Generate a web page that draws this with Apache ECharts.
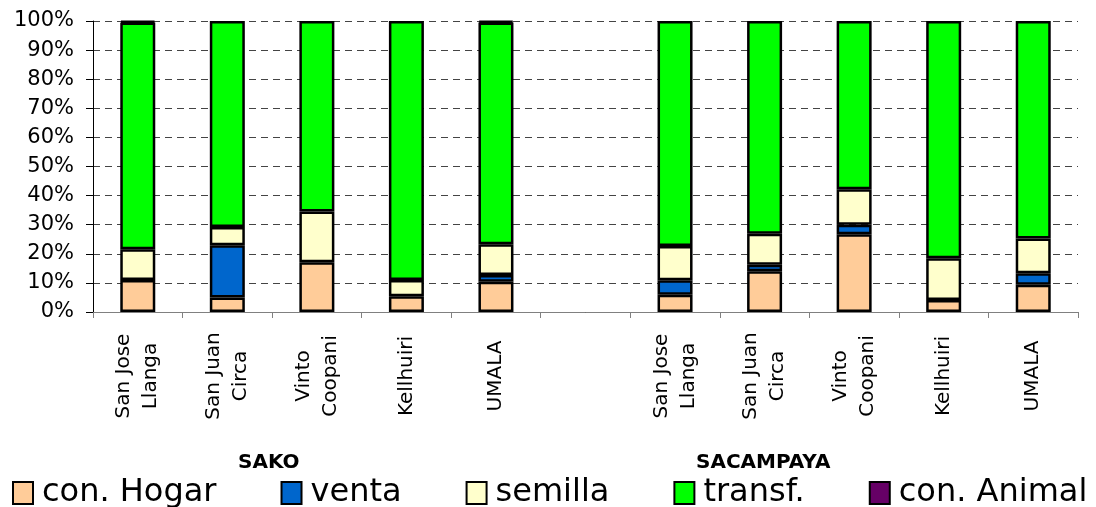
<!DOCTYPE html>
<html>
<head>
<meta charset="utf-8">
<script src="https://cdn.jsdelivr.net/npm/echarts@6/dist/echarts.min.js"></script>
<style>
html,body{margin:0;padding:0;background:#fff;}
#chart{width:1096px;height:507px;}
</style>
</head>
<body>
<div id="chart"></div>
<script>
var categories = ['San Jose\nLlanga','San Juan\nCirca','Vinto\nCoopani','Kellhuiri','UMALA','',
                  'San Jose\nLlanga','San Juan\nCirca','Vinto\nCoopani','Kellhuiri','UMALA'];
var groupLabels = ['SAKO','SACAMPAYA'];
var seriesNames = ['con. Hogar','venta','semilla','transf.','con. Animal'];
var conHogar  = [11.0, 5.0, 17.1, 5.4, 10.4, null, 5.9, 14.0, 26.7, 4.1, 9.4];
var venta     = [0, 17.9, 0, 0, 2.3, null, 5.0, 2.2, 3.3, 0, 3.9];
var semilla   = [10.6, 6.3, 17.4, 5.6, 10.6, null, 11.8, 10.7, 12.2, 14.4, 12.0];
var transf    = [77.9, 70.8, 65.5, 89.0, 76.2, null, 77.3, 73.1, 57.8, 81.5, 74.7];
var conAnimal = [0.5, 0, 0, 0, 0.5, null, 0, 0, 0, 0, 0];
var yTicks = [0,10,20,30,40,50,60,70,80,90,100];

var colors = ['#FFCC99','#0066CC','#FFFFCC','#00FF00','#660066'];
var dataList = [conHogar, venta, semilla, transf, conAnimal];

var chart = echarts.init(document.getElementById('chart'));
var series = seriesNames.map(function(n,i){
  return {
    name:n, type:'bar', stack:'total',
    data:dataList[i].map(function(v){ return v === 0 ? null : v; }),
    barWidth:35,
    itemStyle:{color:colors[i], borderColor:'#000', borderWidth:2.5},
    emphasis:{disabled:true}
  };
});
chart.setOption({
  animation:false,
  textStyle:{fontFamily:'DejaVu Sans'},
  grid:{left:93,right:18,top:21,bottom:195,containLabel:false},
  xAxis:{
    type:'category', data:categories,
    axisLine:{lineStyle:{color:'#808080',width:1}},
    axisTick:{show:true,alignWithLabel:false,length:6,lineStyle:{color:'#808080'}},
    axisLabel:{rotate:90,interval:0,align:'center',verticalAlign:'middle',margin:64,
      fontSize:20,lineHeight:27,color:'#000',fontFamily:'DejaVu Sans'}
  },
  yAxis:{
    type:'value', min:yTicks[0], max:yTicks[yTicks.length-1], interval:10,
    axisLine:{show:true,lineStyle:{color:'#000',width:1}},
    axisTick:{show:true,length:7,lineStyle:{color:'#000'}},
    axisLabel:{formatter:'{value}%',fontSize:21,color:'#000',margin:19,fontFamily:'DejaVu Sans'},
    splitLine:{show:true,lineStyle:{color:'#444',type:[7,5],width:1}}
  },
  legend:{
    data:seriesNames, left:7, top:472, itemWidth:20, itemHeight:22, itemGap:64,
    icon:'rect',
    itemStyle:{borderColor:'#000',borderWidth:2},
    textStyle:{fontSize:32,color:'#000',fontFamily:'DejaVu Sans',padding:[0,0,0,4]},
    selectedMode:false
  },
  graphic:[
    {type:'text',left:238,top:453,style:{text:groupLabels[0],font:'bold 20px DejaVu Sans',fill:'#000'}},
    {type:'text',left:696,top:453,style:{text:groupLabels[1],font:'bold 20px DejaVu Sans',fill:'#000'}}
  ],
  series:series
});
</script>
</body>
</html>
